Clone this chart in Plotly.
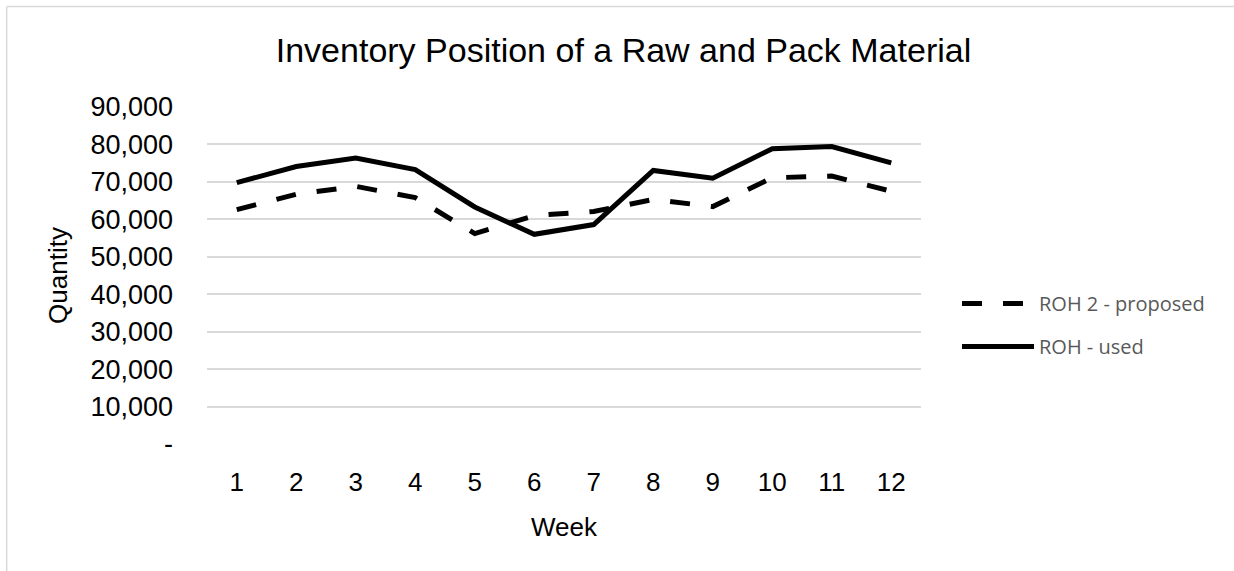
import plotly.graph_objects as go

weeks = ["1", "2", "3", "4", "5", "6", "7", "8", "9", "10", "11", "12"]
roh2_proposed = [62600, 66700, 68800, 65800, 56200, 61000, 62100, 65300, 63400, 71100, 71550, 67500]
roh_used = [69800, 74100, 76350, 73300, 63300, 56000, 58600, 73050, 71000, 78850, 79450, 75100]
y_ticks = [0, 10000, 20000, 30000, 40000, 50000, 60000, 70000, 80000, 90000]
y_tick_labels = ["-", "10,000", "20,000", "30,000", "40,000", "50,000", "60,000", "70,000", "80,000", "90,000"]

W, H = 1234, 571
L, R, T, B = 207, 921, 107, 444

def px_x(p):
    return (p - L) / (R - L)

def px_y(p):
    return (B - p) / (B - T)

fig = go.Figure()
fig.add_trace(go.Scatter(x=weeks, y=roh2_proposed, mode="lines", name="ROH 2 - proposed",
                         legendgroup="a",
                         line=dict(color="black", width=5, dash="20px,21px")))
fig.add_trace(go.Scatter(x=weeks, y=roh_used, mode="lines", name="ROH - used",
                         legendgroup="b",
                         line=dict(color="black", width=5)))

font_main = "Liberation Sans"

fig.update_layout(
    width=W, height=H,
    margin=dict(l=L, r=W - R, t=T, b=H - B, autoexpand=False),
    paper_bgcolor="white", plot_bgcolor="white",
    title=dict(text="Inventory Position of a Raw and Pack Material",
               font=dict(family=font_main, size=34, color="black"),
               x=px_x(623.5), xref="paper", xanchor="center",
               y=1 - 50 / H, yref="container", yanchor="middle"),
    showlegend=True,
    legend=dict(x=px_x(957), y=px_y(284), xanchor="left", yanchor="top",
                font=dict(family="Open Sans", size=20, color="#595959"),
                tracegroupgap=14, itemwidth=72, bgcolor="rgba(0,0,0,0)"),
    xaxis=dict(type="category", range=[-0.5, 11.5], showgrid=False,
               showline=False, ticks="", zeroline=False,
               tickfont=dict(family=font_main, size=26, color="black"),
               ticklabelstandoff=20,
               title=dict(text="Week", font=dict(family=font_main, size=26, color="black"),
                          standoff=21)),
    yaxis=dict(range=[0, 90000], tickvals=y_ticks, ticktext=y_tick_labels,
               showgrid=True, gridcolor="#d9d9d9", gridwidth=1.5,
               zeroline=False, showline=False, ticks="",
               tickfont=dict(family=font_main, size=27, color="black"),
               ticklabelstandoff=33,
               title=dict(text="Quantity", font=dict(family=font_main, size=26, color="black"),
                          standoff=15)),
    shapes=[
        dict(type="line", xref="paper", yref="paper",
             x0=px_x(6.7), x1=px_x(1300), y0=px_y(6.5), y1=px_y(6.5),
             line=dict(color="#d9d9d9", width=1.5)),
        dict(type="line", xref="paper", yref="paper",
             x0=px_x(6.7), x1=px_x(6.7), y0=px_y(6.5), y1=px_y(620),
             line=dict(color="#d9d9d9", width=1.5)),
    ],
)

fig.write_html("out.html", config={"displayModeBar": False},
               post_script="document.body.style.margin='0';document.body.style.overflow='hidden';")
